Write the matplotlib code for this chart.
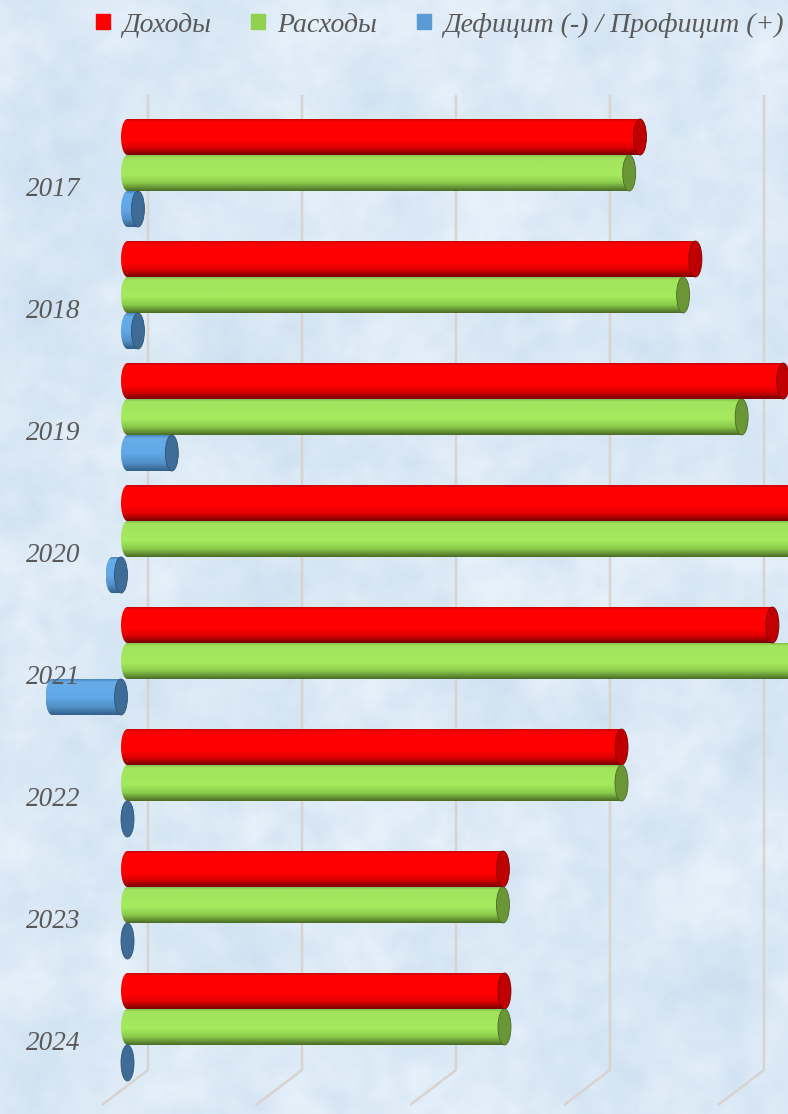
import matplotlib.pyplot as plt
import numpy as np
from matplotlib.path import Path
from matplotlib.patches import PathPatch, Ellipse, Patch
from matplotlib.colors import LinearSegmentedColormap

years = ['2017', '2018', '2019', '2020', '2021', '2022', '2023', '2024']
dohody = [337, 373, 430, 470, 423, 325, 248, 249]
rashody = [330, 365, 403, 480, 472, 325, 248, 249]
deficit = [11, 11, 33, -10, -49, 0, 0, 0]
labels = ['Доходы', 'Расходы', 'Дефицит (-) / Профицит (+)']

W, H = 788, 1114
PX = 1.54          # pixels per value unit
ZERO = 121         # pixel x of zero
Y0, PITCH = 173, 122

fig = plt.figure(figsize=(W / 100, H / 100), dpi=100)

# textured light-blue background
bg = fig.add_axes([0, 0, 1, 1], zorder=0)
rng = np.random.default_rng(5)
h2, w2 = H // 2, W // 2
fy = np.fft.fftfreq(h2)[:, None]
fx = np.fft.fftfreq(w2)[None, :]

def smooth(a, s):
    k = np.exp(-(fx ** 2 + fy ** 2) * (2 * np.pi * s) ** 2 / 2)
    return np.real(np.fft.ifft2(np.fft.fft2(a) * k))

def norm(a):
    return a / np.abs(a).max()

tex = 0.45 * norm(smooth(rng.standard_normal((h2, w2)), 12)) \
    + 0.4 * norm(smooth(rng.standard_normal((h2, w2)), 3.5)) \
    + 0.15 * norm(smooth(rng.standard_normal((h2, w2)), 1.0))
base = np.array([219, 233, 246]) / 255
img = base[None, None, :] + tex[:, :, None] * np.array([26, 18, 10])[None, None, :] / 255
bg.imshow(np.clip(img, 0, 1), aspect='auto', extent=(0, 1, 0, 1), interpolation='bilinear')
bg.axis('off')

ax = fig.add_axes([0, 0, 1, 1], zorder=1)
ax.patch.set_alpha(0)
xl = (-ZERO / PX, (W - ZERO) / PX)
yl = ((H - Y0) / PITCH, -Y0 / PITCH)

def ypx(p):
    return (p - Y0) / PITCH

# back wall grid lines + floor
for g in [0, 100, 200, 300, 400]:
    xb = g + 27 / PX
    xf = g - 19 / PX
    ax.plot([xb, xb, xf], [ypx(95), ypx(1070), ypx(1105)], color='#d9d3cd', lw=1.8, zorder=1,
            solid_capstyle='butt')

pos = np.arange(len(years))
h = 36 / PITCH
cap_w = 13 / PX

series = [
    (dohody, -h, [(0, '#c80000'), (0.07, '#ff0000'), (0.6, '#ff0000'), (0.8, '#dd0000'),
                  (1, '#780000')], '#c00000', '#800000'),
    (rashody, 0, [(0, '#86c24a'), (0.07, '#a2e45e'), (0.55, '#a6ea5e'), (0.78, '#8aca4a'),
                  (1, '#4b6c26')], '#6b9636', '#4b6c26'),
    (deficit, h, [(0, '#4a86c0'), (0.08, '#66ace8'), (0.5, '#62a8e8'), (0.78, '#5290c8'),
                  (1, '#33608a')], '#3e6c96', '#2f5479'),
]

for vals, off, cols, capc, edge in series:
    cmap = LinearSegmentedColormap.from_list('c', cols)
    grad = cmap(np.linspace(0, 1, 64))[:, None, :]
    bars = ax.barh(pos + off, vals, height=h, color='none', zorder=2)
    for r in bars:
        x0, w = r.get_x(), r.get_width()
        yb, hh = r.get_y(), r.get_height()
        xa, xb = min(x0, x0 + w), max(x0, x0 + w)
        yc = yb + hh / 2
        rx = cap_w / 2
        xe = max(xb, xa + rx)
        if xe > xa + rx:
            t = np.linspace(np.pi / 2, 3 * np.pi / 2, 40)
            arc = np.column_stack([xa + rx + rx * np.cos(t), yc - hh / 2 * np.sin(t)])
            verts = np.vstack([arc, [[xe, yc + hh / 2], [xe, yc - hh / 2], arc[0]]])
            pp = PathPatch(Path(verts), facecolor='none', edgecolor='none', transform=ax.transData)
            ax.add_patch(pp)
            im = ax.imshow(grad, extent=(xa, xe, yb + hh, yb), origin='upper', aspect='auto',
                           zorder=2, interpolation='bilinear')
            im.set_clip_path(pp)
        ax.add_patch(Ellipse((xe, yc), cap_w, hh, facecolor=capc, edgecolor=edge,
                             lw=0.6, zorder=3))

ax.set_xlim(*xl)
ax.set_ylim(*yl)
ax.axis('off')

for i, y in enumerate(years):
    ax.text((80 - ZERO) / PX, i + 16 / PITCH, y, ha='right', va='center', fontsize=19.5,
            style='italic', family='Liberation Serif', color='#595959', zorder=4)

handles = [Patch(color='#ff0000'), Patch(color='#92d050'), Patch(color='#5b9bd5')]
fig.legend(handles, labels, loc='center', bbox_to_anchor=(440 / W, 1 - 25 / H), ncol=3,
           frameon=False, handlelength=0.48, handleheight=0.48, handletextpad=0.45,
           columnspacing=1.45, prop={'family': 'Liberation Serif', 'style': 'italic', 'size': 20},
           labelcolor='#595959', borderpad=0, borderaxespad=0)

fig.savefig('out.png', dpi=100)
